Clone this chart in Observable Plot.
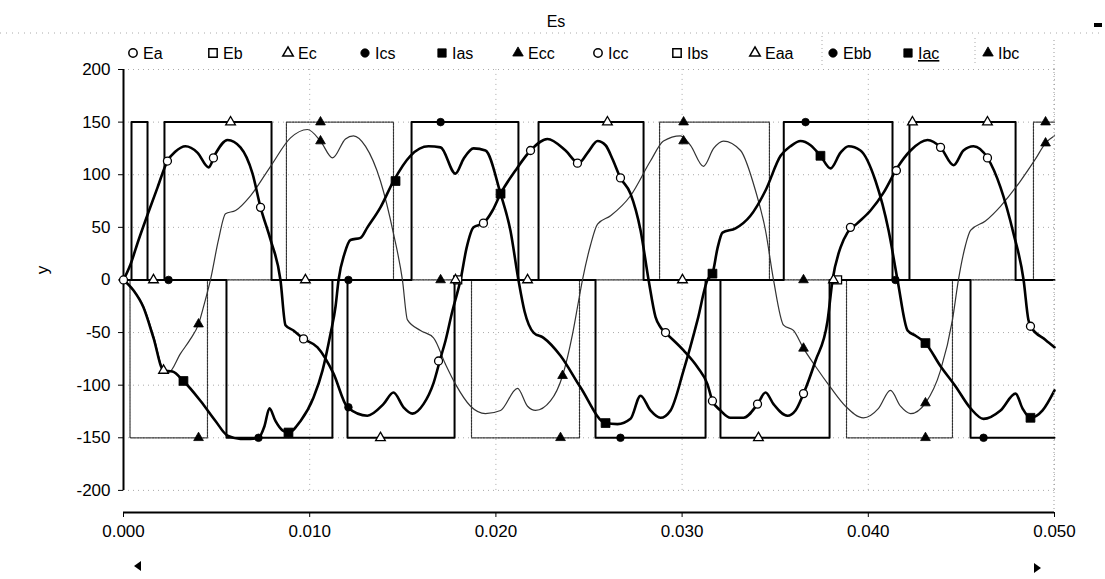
<!DOCTYPE html>
<html><head><meta charset="utf-8">
<script src="https://cdn.jsdelivr.net/npm/d3@7"></script>
<script src="https://cdn.jsdelivr.net/npm/@observablehq/plot@0.6"></script>
<style>
body{margin:0;background:#fff;}
#wrap{position:relative;width:1105px;height:579px;overflow:hidden;font-family:"Liberation Sans",Arial,sans-serif;}
#wrap svg{position:absolute;left:0;top:0;}
</style></head><body><div id="wrap"></div>
<script>
// ---------- axis ticks ----------
const xTicks = [0, 0.01, 0.02, 0.03, 0.04, 0.05];
const yTicks = [-200, -150, -100, -50, 0, 50, 100, 150, 200];
const yDomain = [-221, 200];
const titleText = "Es";
const yLabelText = "y";

// ---------- square waves (step transitions: time s, value) ----------
const ecT = [0, 0.00220, 0.00795, 0.01203, 0.01778, 0.02229, 0.02793, 0.03206, 0.03792, 0.04221, 0.04791, 0.05];
const ecV = [0, 150, 0, -150, 0, 150, 0, -150, 0, 150, 0, 0];
const eccT = [0, 0.00035, 0.00451, 0.00875, 0.01450, 0.01869, 0.02449, 0.02879, 0.03469, 0.03883, 0.04452, 0.04887, 0.05];
const eccV = [0, -150, 0, 150, 0, -150, 0, 150, 0, -150, 0, 150, 150];
const icsT = [0, 0.00043, 0.00129, 0.00553, 0.01122, 0.01547, 0.02121, 0.02535, 0.03126, 0.03546, 0.04130, 0.04549, 0.05];
const icsV = [0, 150, 0, -150, 0, 150, 0, -150, 0, 150, 0, -150, -150];

// ---------- currents ----------
const eaT = [0,0.00038,0.00081,0.00129,0.00183,0.00236,0.00279,0.00333,0.00397,0.00457,0.00494,0.00559,0.00628,0.00693,0.00736,0.00790,0.00843,
  0.00870,0.00913,0.00967,0.01042,0.01128,0.01203,0.01310,0.01396,0.01450,0.01504,0.01552,0.01611,0.01665,0.01703,0.01729,0.01767,0.01799,0.01810,
  0.01842,0.01880,0.01933,0.01982,0.02025,0.02105,0.02186,0.02277,0.02374,0.02444,0.02497,0.02546,0.02589,0.02626,0.02669,0.02723,0.02777,0.02820,
  0.02857,0.02884,0.02911,0.03008,0.03083,0.03136,0.03163,0.03206,0.03260,0.03330,0.03405,0.03448,0.03491,0.03566,0.03609,0.03652,0.03716,0.03781,0.03808,
  0.03851,0.03888,0.03942,0.04012,0.04082,0.04157,0.04227,0.04318,0.04388,0.04458,0.04511,0.04565,0.04640,0.04710,0.04780,0.04834,
  0.04860,0.04871,0.04952,0.05];
const eaV = [0,15,38,62,88,113,122,127,121,107,120,133,126,101,69,38,0,
  -43,-48,-56,-64,-89,-121,-129,-118,-107,-121,-127,-118,-98,-74,-58,-29,-8,0,
  30,50,54,66,82,104,123,134,123,111,122,132,128,115,97,82,47,0,
  -35,-45,-50,-67,-83,-99,-115,-124,-131,-131,-118,-107,-118,-129,-124,-108,-77,-39,0,
  31,45,54,66,83,107,123,133,126,109,123,127,116,88,44,0,
  -38,-44,-57,-64];

const iasT = [0,0.00054,0.00107,0.00161,0.00215,0.00263,0.00322,0.00414,0.00494,0.00559,0.00628,0.00682,0.00725,0.00757,0.00784,0.00816,0.00854,0.00886,0.00951,0.01020,0.01069,0.01112,0.01139,0.01155,
  0.01187,0.01219,0.01273,0.01310,0.01380,0.01450,0.01541,0.01638,0.01703,0.01783,0.01826,0.01880,0.01944,0.02025,0.02078,0.02121,
  0.02154,0.02202,0.02256,0.02347,0.02454,0.02589,0.02653,0.02723,0.02777,0.02830,0.02884,0.02938,0.03008,0.03083,0.03136,
  0.03163,0.03190,0.03217,0.03287,0.03367,0.03448,0.03529,0.03582,0.03636,0.03690,0.03743,0.03797,0.03851,0.03894,0.03958,0.04039,0.04109,0.04157,
  0.04211,0.04254,0.04307,0.04388,0.04468,0.04549,0.04619,0.04710,0.04791,0.04828,0.04871,0.04936,0.05];
const iasV = [0,-10,-26,-55,-86,-87,-96,-115,-134,-148,-151,-151,-150,-139,-122,-134,-143,-145,-134,-112,-86,-51,-25,0,
  25,38,40,50,69,94,118,127,126,101,115,125,123,82,47,0,
  -30,-50,-55,-72,-102,-136,-137,-132,-110,-124,-131,-124,-86,-38,0,
  6,30,45,49,61,85,118,127,132,128,118,106,121,127,123,94,47,0,
  -48,-53,-60,-82,-101,-122,-132,-124,-108,-122,-131,-124,-105];

const ibcT = [0,0.00054,0.00107,0.00161,0.00215,0.00242,0.00306,0.00360,0.00403,0.00435,0.00467,
  0.00510,0.00548,0.00602,0.00682,0.00790,0.00897,0.00988,0.01058,0.01123,0.01192,0.01235,0.01300,0.01380,0.01450,0.01498,
  0.01525,0.01595,0.01665,0.01729,0.01783,0.01864,0.01944,0.02025,0.02116,0.02170,0.02213,0.02293,0.02358,0.02411,0.02444,0.02465,
  0.02508,0.02546,0.02616,0.02723,0.02830,0.02900,0.02991,0.03045,0.03115,0.03169,0.03222,0.03314,0.03394,0.03448,0.03491,
  0.03545,0.03598,0.03652,0.03716,0.03797,0.03878,0.03974,0.04055,0.04119,0.04173,0.04227,0.04307,0.04388,0.04452,0.04484,
  0.04522,0.04549,0.04629,0.04710,0.04817,0.04898,0.04952,0.05];
const ibcV = [0,-10,-25,-53,-86,-88,-70,-56,-42,-22,0,
  38,63,66,80,108,135,143,132,116,134,137,127,94,44,0,
  -38,-48,-55,-80,-99,-120,-127,-124,-103,-120,-124,-115,-91,-52,-20,0,
  33,53,61,80,113,132,137,128,108,125,132,123,85,47,0,
  -43,-48,-65,-82,-102,-120,-131,-122,-105,-120,-127,-117,-86,-38,0,
  33,47,56,70,94,115,130,137];

// ---------- markers ----------
const eaMarkT = [0.00236,0.00483,0.00736,0.00967,0.01692,0.01933,0.02186,0.02438,0.02669,0.02911,0.03163,0.03405,0.03652,0.03904,0.04151,0.04388,0.04640,0.04871];
const eaMarkV = [113,116,69,-56,-77,54,123,111,97,-50,-115,-118,-108,50,104,126,116,-44];
const iccMarkT = [0];
const iccMarkV = [0];
const ebMarkT = [0.03835];
const ebMarkV = [0];
const ibsMarkT = [0.01795];
const ibsMarkV = [0];
const ecMarkT = [0.00575,0.02599,0.04237,0.04640,0.01380,0.03410,0.00161,0.00977,0.01783,0.03002,0.03813];
const ecMarkV = [150,150,150,150,-150,-150,0,0,0,0,0];
const eaaMarkT = [0.00215,0.02170];
const eaaMarkV = [-86,0];
const icsMarkT = [0.01703,0.03663,0.00725,0.02669,0.04619,0.00242,0.01208,0.04146];
const icsMarkV = [150,150,-150,-150,-150,0,0,0];
const ebbMarkT = [0.01208];
const ebbMarkV = [-121];
const iasMarkT = [0.00322,0.00886,0.01461,0.02025,0.02589,0.03163,0.03743,0.04307,0.04871];
const iasMarkV = [-96,-145,94,82,-136,6,118,-60,-131];
const eccMarkT = [0.01058,0.03008,0.04952,0.00403,0.02347,0.04307,0.01703,0.03652];
const eccMarkV = [150,150,150,-150,-150,-150,0,0];
const ibcMarkT = [0.00403,0.01058,0.02358,0.03008,0.03652,0.04307,0.04952];
const ibcMarkV = [-42,132,-91,132,-65,-117,130];

// ---------- legend ----------
const legendNames = ["Ea","Eb","Ec","Ics","Ias","Ecc","Icc","Ibs","Eaa","Ebb","Iac","Ibc"];
const legendSymbols = ["circle","square","triangle","circle","square","triangle","circle","square","triangle","circle","square","triangle"];
const legendFilled = [false,false,false,true,true,true,false,false,false,true,true,true];

const rows = (ts, vs) => ts.map((t, i) => ({t, v: vs[i]}));
const open = {fill: "white", stroke: "black", strokeWidth: 1.3};
const solid = {fill: "black", stroke: "black", strokeWidth: 0.8};

const plot = Plot.plot({
  width: 1105, height: 579,
  marginLeft: 123, marginRight: 51, marginTop: 69, marginBottom: 67,
  style: {fontFamily: "'Liberation Sans', Arial, sans-serif", fontSize: "17px", color: "#000", background: "transparent"},
  x: {domain: [xTicks[0], xTicks[xTicks.length - 1]]},
  y: {domain: yDomain},
  marks: [
    Plot.ruleY(yTicks, {stroke: "#aaa", strokeDasharray: "1,4", strokeWidth: 1}),
    Plot.ruleX(xTicks.slice(1), {y1: d3.min(yTicks), y2: d3.max(yTicks), stroke: "#aaa", strokeDasharray: "1,4", strokeWidth: 1}),
    Plot.ruleX([xTicks[0]], {y1: d3.min(yTicks), y2: d3.max(yTicks), stroke: "#000", strokeWidth: 2}),
    Plot.ruleY([yDomain[0]], {stroke: "#000", strokeWidth: 2}),
    Plot.axisY({ticks: yTicks, tickSize: 5, tickPadding: 8, tickFormat: d => String(d), label: null, fontSize: 17}),
    Plot.axisX({ticks: xTicks, tickSize: 5, tickPadding: 7, tickFormat: d3.format(".3f"), label: null, fontSize: 17}),
    // square waves
    Plot.line(rows(eccT, eccV), {x: "t", y: "v", curve: "step-after", stroke: "#333", strokeWidth: 1.2, strokeDasharray: "2,1"}),
    Plot.line(rows(ecT, ecV), {x: "t", y: "v", curve: "step-after", stroke: "#000", strokeWidth: 2}),
    Plot.line(rows(icsT, icsV), {x: "t", y: "v", curve: "step-after", stroke: "#000", strokeWidth: 2}),
    // currents
    Plot.line(rows(ibcT, ibcV), {x: "t", y: "v", curve: "monotone-x", stroke: "#333", strokeWidth: 1.2}),
    Plot.line(rows(eaT, eaV), {x: "t", y: "v", curve: "monotone-x", stroke: "#000", strokeWidth: 2.6}),
    Plot.line(rows(iasT, iasV), {x: "t", y: "v", curve: "monotone-x", stroke: "#000", strokeWidth: 2.6}),
    // markers
    Plot.dot(rows(eaMarkT, eaMarkV), {x: "t", y: "v", symbol: "circle", r: 4, ...open}),
    Plot.dot(rows(iccMarkT, iccMarkV), {x: "t", y: "v", symbol: "circle", r: 4, ...open}),
    Plot.dot(rows(ebMarkT, ebMarkV), {x: "t", y: "v", symbol: "square", r: 4.5, ...open}),
    Plot.dot(rows(ibsMarkT, ibsMarkV), {x: "t", y: "v", symbol: "square", r: 4.5, ...open}),
    Plot.dot(rows(ecMarkT, ecMarkV), {x: "t", y: "v", symbol: "triangle", r: 3.6, ...open}),
    Plot.dot(rows(eaaMarkT, eaaMarkV), {x: "t", y: "v", symbol: "triangle", r: 3.6, ...open}),
    Plot.dot(rows(icsMarkT, icsMarkV), {x: "t", y: "v", symbol: "circle", r: 3.8, ...solid}),
    Plot.dot(rows(ebbMarkT, ebbMarkV), {x: "t", y: "v", symbol: "circle", r: 3.8, ...solid}),
    Plot.dot(rows(iasMarkT, iasMarkV), {x: "t", y: "v", symbol: "square", r: 5, ...solid}),
    Plot.dot(rows(eccMarkT, eccMarkV), {x: "t", y: "v", symbol: "triangle", r: 3.6, ...solid}),
    Plot.dot(rows(ibcMarkT, ibcMarkV), {x: "t", y: "v", symbol: "triangle", r: 3.6, ...solid})
  ]
});
const wrap = document.getElementById("wrap");
wrap.appendChild(plot);

// ---------- overlay: title, legend, decorations ----------
const ov = d3.select(wrap).append("svg")
  .attr("width", 1105).attr("height", 579)
  .style("pointer-events", "none")
  .attr("font-family", "'Liberation Sans', Arial, sans-serif");

ov.append("line").attr("x1", 0).attr("x2", 1100).attr("y1", 33).attr("y2", 33)
  .attr("stroke", "#aaa").attr("stroke-dasharray", "1,5").attr("stroke-width", 1);
ov.append("line").attr("x1", 1054).attr("x2", 1054).attr("y1", 40).attr("y2", 512)
  .attr("stroke", "#999").attr("stroke-dasharray", "1,3").attr("stroke-width", 1);
[[822, 36, 66], [975, 38, 66]].forEach(([x, a, b]) =>
  ov.append("line").attr("x1", x).attr("x2", x).attr("y1", a).attr("y2", b)
    .attr("stroke", "#aaa").attr("stroke-dasharray", "1,3"));

ov.append("text").attr("x", 556).attr("y", 27).attr("text-anchor", "middle")
  .attr("font-size", 16).text(titleText);
ov.append("rect").attr("x", 1094).attr("y", 23).attr("width", 8).attr("height", 4).attr("fill", "#000");

const legendX = [133, 213, 288, 365, 442, 518, 598, 677, 755, 833, 908, 988];
legendNames.forEach((name, i) => {
  const sym = {circle: d3.symbolCircle, square: d3.symbolSquare, triangle: d3.symbolTriangle}[legendSymbols[i]];
  const size = legendSymbols[i] === "square" ? 70 : legendSymbols[i] === "triangle" ? 48 : 55;
  ov.append("path").attr("d", d3.symbol(sym, size)())
    .attr("transform", `translate(${legendX[i]},53)`)
    .attr("fill", legendFilled[i] ? "#000" : "#fff")
    .attr("stroke", "#000").attr("stroke-width", legendFilled[i] ? 0.8 : 1.5);
  const t = ov.append("text").attr("x", legendX[i] + 10).attr("y", 59)
    .attr("font-size", 16).text(name);
  if (name === "Iac") t.attr("text-decoration", "underline");
});

ov.append("text").attr("transform", "translate(48,270) rotate(-90)")
  .attr("text-anchor", "middle").attr("font-size", 17).text(yLabelText);

ov.append("path").attr("d", "M134,566 L141,561 L141,571 Z").attr("fill", "#000");
ov.append("path").attr("d", "M1041,568 L1034,563 L1034,573 Z").attr("fill", "#000");
</script></body></html>
